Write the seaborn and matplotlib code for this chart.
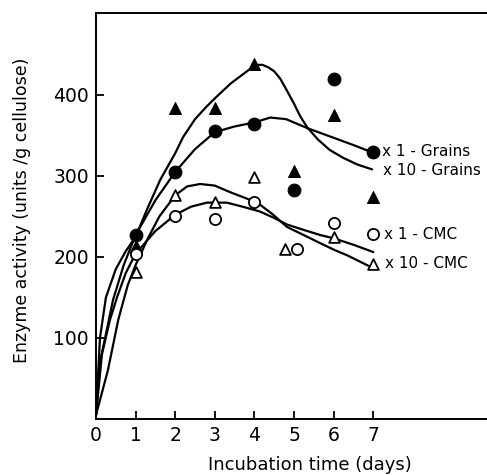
import matplotlib
matplotlib.use('Agg')
import matplotlib.pyplot as plt
import seaborn as sns
import numpy as np
import pandas as pd

# measured points
days = [1, 2, 3, 4, 5, 6, 7]
grains_x1 = [227, 305, 355, 364, 282, 420, 329]
grains_x10 = [214, 384, 384, 438, 306, 375, 274]
cmc_x1_days = [1, 2, 3, 4, 5.07, 6, 7]
cmc_x1 = [204, 251, 247, 268, 210, 242, 228]
cmc_x10_days = [1, 2, 3, 4, 4.77, 6, 7]
cmc_x10 = [181, 277, 268, 299, 210, 225, 191]

# hand drawn curves
curve_g10_x = [0, 0.1, 0.25, 0.5, 0.75, 1, 1.3, 1.62, 2, 2.2, 2.5, 2.8, 3.05, 3.4, 3.7, 3.89, 4.07, 4.2, 4.35, 4.5, 4.65, 4.8, 5.0, 5.15, 5.33, 5.6, 5.9, 6.25, 6.6, 6.97]
curve_g10_y = [5, 100, 150, 185, 207, 225, 260, 295, 328, 348, 370, 386, 398, 414, 425, 432, 437, 437, 434, 429, 420, 407, 389, 374, 360, 345, 332, 322, 314, 308]
curve_g1_x = [0, 0.1, 0.23, 0.43, 0.7, 1, 1.5, 2, 2.5, 3, 3.5, 4, 4.4, 4.8, 5.33, 6.0, 6.5, 6.92]
curve_g1_y = [5, 70, 100, 147, 190, 227, 270, 305, 333, 354, 361, 366, 372, 370, 359, 347, 338, 330]
curve_c1_x = [0, 0.15, 0.35, 0.53, 0.75, 1, 1.5, 2, 2.4, 2.8, 3.3, 3.7, 4.14, 4.5, 4.82, 5.2, 5.66, 6.0, 6.5, 7.0]
curve_c1_y = [5, 80, 122, 150, 180, 204, 232, 252, 262, 267, 267, 262, 256, 248, 240, 234, 227, 223, 215, 206]
curve_c10_x = [0, 0.3, 0.56, 0.8, 1, 1.3, 1.6, 2, 2.3, 2.63, 3, 3.38, 3.7, 4.07, 4.45, 4.82, 5.2, 5.66, 6.0, 6.34, 6.92]
curve_c10_y = [5, 60, 122, 165, 190, 222, 250, 276, 287, 290, 288, 280, 274, 267, 253, 237, 228, 217, 209, 202, 188]

labels = ['x 1 - Grains', 'x 10 - Grains', 'x 1 - CMC', 'x 10 - CMC']
label_pos = [(7.22, 330), (7.25, 307), (7.28, 228), (7.3, 192)]

sns.set_style('ticks')
plt.rcParams['font.family'] = ['DejaVu Sans']
plt.rcParams['text.color'] = 'black'
plt.rcParams['axes.labelcolor'] = 'black'

fig = plt.figure(figsize=(4.87, 4.75), dpi=100)
ax = fig.add_axes([96 / 487, 56 / 475, 391 / 487, 406 / 475])

for cx, cy in [(curve_g10_x, curve_g10_y), (curve_g1_x, curve_g1_y),
               (curve_c1_x, curve_c1_y), (curve_c10_x, curve_c10_y)]:
    sns.lineplot(x=cx, y=cy, ax=ax, color='black', lw=1.6, sort=False, estimator=None)

sns.scatterplot(x=days, y=grains_x10, ax=ax, marker='^', s=75, color='black', edgecolor='black', zorder=3)
sns.scatterplot(x=days, y=grains_x1, ax=ax, marker='o', s=85, color='black', edgecolor='black', zorder=3)
sns.scatterplot(x=cmc_x10_days, y=cmc_x10, ax=ax, marker='^', s=60, facecolor='white', edgecolor='black', linewidth=1.3, zorder=3)
sns.scatterplot(x=cmc_x1_days, y=cmc_x1, ax=ax, marker='o', s=65, facecolor='white', edgecolor='black', linewidth=1.3, zorder=3)

for txt, (tx, ty) in zip(labels, label_pos):
    ax.text(tx, ty, txt, fontsize=11, va='center', ha='left', color='black')

ax.set_xlim(0, 9.87)
ax.set_ylim(0, 501)
ax.set_xticks(range(8))
ax.set_yticks([100, 200, 300, 400])
ax.tick_params(direction='in', length=6, width=1.3, labelsize=13.5, pad=5, colors='black')
ax.spines['right'].set_visible(False)
for s in ['left', 'bottom', 'top']:
    ax.spines[s].set_linewidth(1.4)
    ax.spines[s].set_color('black')

ax.set_xlabel('Incubation time (days)', fontsize=13, color='black')
ax.set_ylabel('Enzyme activity (units /g cellulose)', fontsize=12.5, color='black')
ax.xaxis.set_label_coords(0.547, -0.09)
ax.yaxis.set_label_coords(-0.165, 0.515)

fig.savefig('out.png', dpi=100)
